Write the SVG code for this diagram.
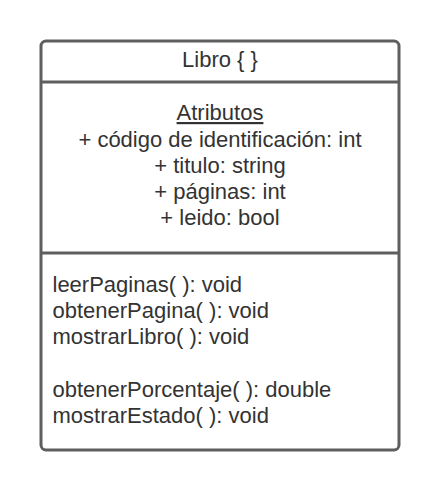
<svg xmlns="http://www.w3.org/2000/svg" width="440" height="491" viewBox="0 0 440 491">
<style>
.box{fill:#ffffff;stroke:#5e5e5e;stroke-width:3}
.div{stroke:#5e5e5e;stroke-width:3}
text{font-family:"Liberation Sans",Arial,sans-serif;font-size:22px;fill:#333333}
.c{text-anchor:middle}
</style>
<rect width="440" height="491" fill="#ffffff"/>
<g id="Libro">
<rect class="box" x="41" y="41" width="358" height="409" rx="5" ry="5"/>
<line class="div" x1="41" y1="82" x2="399" y2="82"/>
<line class="div" x1="41" y1="253" x2="399" y2="253"/>
<text class="c" x="220" y="67">Libro { }</text>
<text class="c" x="220" y="120" text-decoration="underline">Atributos</text>
<text class="c" x="220" y="147">+ código de identificación: int</text>
<text class="c" x="220" y="173">+ titulo: string</text>
<text class="c" x="220" y="199">+ páginas: int</text>
<text class="c" x="220" y="225">+ leido: bool</text>
<text x="52.5" y="292">leerPaginas( ): void</text>
<text x="52.5" y="318">obtenerPagina( ): void</text>
<text x="52.5" y="344">mostrarLibro( ): void</text>
<text x="52.5" y="397">obtenerPorcentaje( ): double</text>
<text x="52.5" y="423">mostrarEstado( ): void</text>
</g>
<g id="connectors"/>
</svg>
